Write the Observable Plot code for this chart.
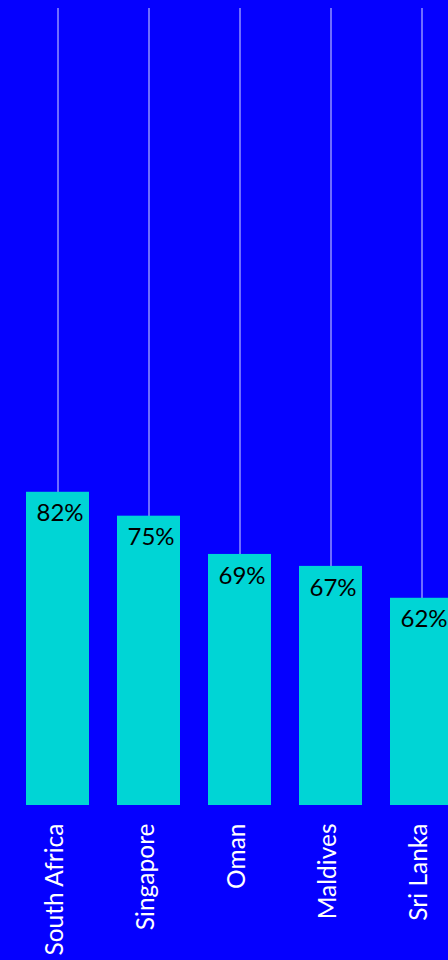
<!DOCTYPE html>
<html>
<head>
<meta charset="utf-8">
<script src="https://cdn.jsdelivr.net/npm/d3@7"></script>
<script src="https://cdn.jsdelivr.net/npm/@observablehq/plot@0.6"></script>
<style>
  html, body { margin: 0; padding: 0; background: #0500FF; width: 448px; height: 960px; overflow: hidden; }
  svg { display: block; }
</style>
</head>
<body>
<div id="chart"></div>
<script>
const countries = ["South Africa", "Singapore", "Oman", "Maldives", "Sri Lanka"];
const shareLabels = ["82%", "75%", "69%", "67%", "62%"];
// bar heights (share of the full rule height)
const barValues = [39.3, 36.3, 31.5, 30.0, 26.0];

const data = countries.map((c, i) => ({country: c, value: barValues[i], label: shareLabels[i]}));

const chart = Plot.plot({
  width: 448,
  height: 960,
  marginTop: 8,
  marginBottom: 155,
  marginLeft: 0,
  marginRight: 0,
  style: {background: "#0500FF", fontFamily: "Lato, sans-serif"},
  x: {domain: countries, range: [26, 453], paddingInner: 0.3077, paddingOuter: 0, label: null},
  y: {domain: [0, 100], axis: null},
  marks: [
    Plot.ruleX(data, {x: "country", stroke: "#ffffff", strokeWidth: 1, strokeOpacity: 0.85}),
    Plot.barY(data, {x: "country", y: "value", fill: "#00D5D5"}),
    Plot.text(data, {x: "country", y: "value", text: "label", dy: 21.5, dx: 2, fill: "#000000", fontSize: 24, fontFamily: "Lato, sans-serif"}),
    Plot.axisX({tickRotate: -90, tickSize: 0, tickPadding: 18, dx: -2.5, fontSize: 24.5, color: "#ffffff", fontFamily: "Lato, sans-serif", label: null})
  ]
});
document.getElementById("chart").appendChild(chart);
</script>
</body>
</html>
